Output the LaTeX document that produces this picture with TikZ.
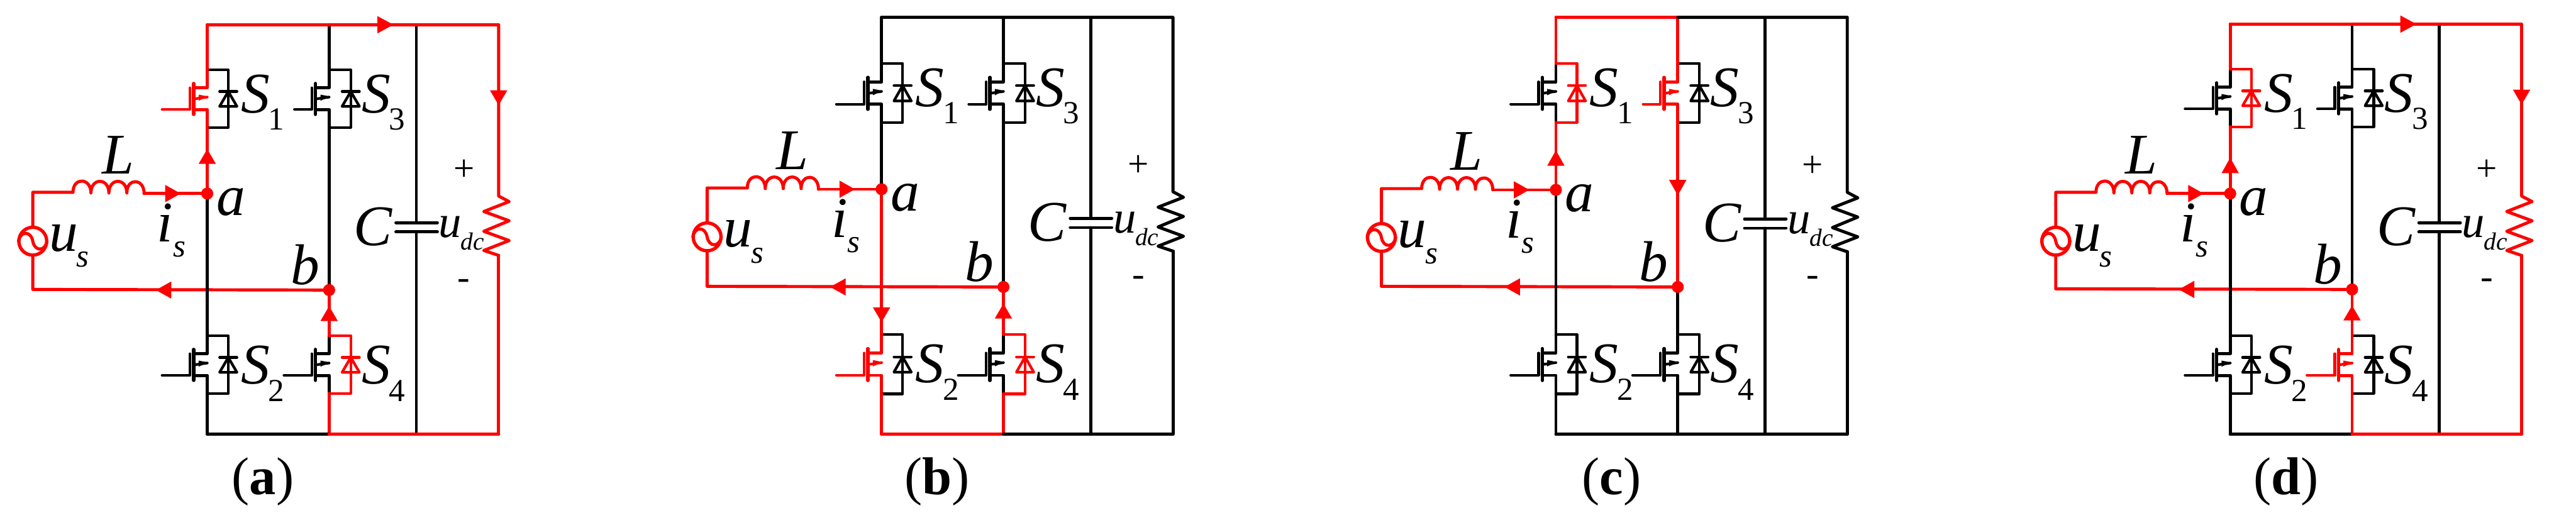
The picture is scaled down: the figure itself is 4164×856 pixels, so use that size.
\documentclass[tikz,border=0pt]{standalone}
\usepackage{fontspec}
\setmainfont{Liberation Serif}
\tikzset{
  wire/.style={line width=2.5pt,line cap=round,line join=round},
  mwire/.style={line width=2.15pt,line cap=round,line join=round},
  lab/.style={inner sep=0pt,font=\fontsize{46.5}{50}\selectfont\itshape},
  midlab/.style={inner sep=0pt,font=\fontsize{37}{40}\selectfont\itshape},
  sublab/.style={inner sep=0pt,font=\fontsize{26}{30}\selectfont\itshape},
  dclab/.style={inner sep=0pt,font=\fontsize{20}{24}\selectfont\itshape},
  subnum/.style={inner sep=0pt,font=\fontsize{26}{30}\selectfont},
  signlab/.style={inner sep=0pt,font=\fontsize{30}{32}\selectfont},
  caplab/.style={inner sep=0pt,font=\fontsize{43}{46}\selectfont},
  dot/.style={circle,fill=red,inner sep=0pt,minimum size=9.6pt}
}
% vertical arrowhead: x, base y, tip y
\newcommand{\kVarr}[3]{\fill[red] (#1-14,#2) -- (#1+14,#2) -- (#1,#3) -- cycle;}
% horizontal arrowhead: base x, tip x, y
\newcommand{\kHarr}[3]{\fill[red] (#1,#3-14) -- (#1,#3+14) -- (#2,#3) -- cycle;}
% MOSFET with antiparallel diode: name, bus x, top y, gate length, mos colour, diode colour, diode offset
\newcommand{\kMos}[7]{%
  \begin{scope}[shift={(#2,#3)},yscale=\kS]
    \coordinate (#1t) at (0,0);
    \coordinate (#1b) at (0,93);
    \coordinate (#1dt) at (#7,0);
    \coordinate (#1db) at (#7,93);
    \coordinate (#1d) at (0,29);
    \coordinate (#1s) at (0,64);
    \coordinate (#1e) at (0,44);
    \coordinate (#1cd) at (-22,29);
    \coordinate (#1cs) at (-22,64);
    \coordinate (#1g) at (-#4,64);
    \coordinate (#1gt) at (-28,29);
    \coordinate (#1gb) at (-28,64);
    \coordinate (#1ct) at (-22,22);
    \coordinate (#1cb) at (-22,72);
    \draw[wire,#5] (#1t) -- (#1d) -- (#1cd);
    \draw[wire,#5] (#1cs) -- (#1s) -- (#1b);
    \draw[mwire,#5] (#1g) -- (#1gb) -- (#1gt);
    \draw[wire,#5,line width=2.7pt] (#1ct) -- (#1cb);
    \draw[mwire,#5] (#1cs |- 0,47) -- (#1e);
    \fill[#5] (1,43) -- (-14,40) -- (-14,50) -- cycle;
    \draw[mwire,#6] (#1t) -- (#1dt) -- (#1db) -- (#1b);
    \draw[mwire,#6] (#7-14,35) -- (#7+14,35);
    \draw[mwire,#6] (#7,35) -- (#7+14,59) -- (#7-14,59) -- cycle;
  \end{scope}}
% one converter panel: name, caption letter, extra arrowheads
\newcommand{\kPanel}[3]{%
  \begin{scope}[shift={(\kX,0)}]
    \coordinate (#1tl) at (0,\kT);
    \coordinate (#1tb) at (197,\kT);
    \coordinate (#1tc) at (338,\kT);
    \coordinate (#1tr) at (471,\kT);
    \coordinate (#1bl) at (0,702);
    \coordinate (#1bb) at (197,702);
    \coordinate (#1bc) at (338,702);
    \coordinate (#1br) at (471,702);
    \coordinate (#1sl) at (-282,\kA-2);
    \coordinate (#1il) at (-217,\kA-2);
    \coordinate (#1ir) at (-102,\kA);
    \coordinate (#1so) at (-282,\kB-1);
    \coordinate (#1cu) at (338,\kA+47);
    \coordinate (#1cl) at (338,\kA+62);
    \coordinate (#1ru) at (471,\kA+4);
    \coordinate (#1rl) at (471,\kA+100);
    % source side
    \node[draw=red,line width=2.7pt,circle,minimum size=22.5pt,inner sep=0pt] (#1src) at (-282,\kA+77) {};
    \draw[wire,red] (-305,\kA+77) .. controls +(3,-17) and +(-3,-17) .. (-282,\kA+77)
       .. controls +(3,17) and +(-3,17) .. (-259,\kA+77);
    \draw[wire,red] (#1src.north) -- (#1sl) -- (#1il)
       .. controls +(0,-25) and +(0,-25) .. ++(29,1)
       .. controls +(0,-25) and +(0,-25) .. ++(29,0)
       .. controls +(0,-25) and +(0,-25) .. ++(29,0)
       .. controls +(0,-25) and +(0,-25) .. ++(28,1) -- (#1ir);
    \node[dot] (#1na) at (0,\kA) {};
    \node[dot] (#1nb) at (197,\kB) {};
    \draw[wire,red] (#1ir) -- (#1na);
    \draw[wire,red] (#1src.south) -- (#1so) -- (#1nb);
    % switches
    \kMos{#1q1}{0}{\kSa}{73}{\kMa}{\kDa}{34}
    \kMos{#1q3}{197}{\kSa}{56}{\kMc}{\kDc}{35}
    \kMos{#1q2}{0}{\kSb}{73}{\kMb}{\kDb}{34}
    \kMos{#1q4}{197}{\kSb}{73}{\kMd}{\kDd}{35}
    % buses
    \draw[wire,\kTA] (#1tl) -- (#1q1t);
    \draw[wire,\kTB] (#1tb) -- (#1q3t);
    \draw[wire,\kUA] (#1q1b) -- (#1na);
    \draw[wire,\kUB] (#1q3b) -- (#1nb);
    \draw[wire,\kLA] (#1na) -- (#1q2t);
    \draw[wire,\kLB] (#1nb) -- (#1q4t);
    \draw[wire,\kBA] (#1q2b) -- (#1bl);
    \draw[wire,\kBB] (#1q4b) -- (#1bb);
    \draw[wire] (#1tc) -- (#1cu);
    \draw[wire] (#1cl) -- (#1bc);
    \draw[wire] (-33+338,\kA+47) -- (34+338,\kA+47);
    \draw[wire] (-33+338,\kA+62) -- (34+338,\kA+62);
    \draw[wire,\kTL] (#1tl) -- (#1tb);
    \draw[wire,\kTR] (#1tb) -- (#1tc) -- (#1tr) -- (#1ru)
      -- (488,\kA+13) -- (447,\kA+29) -- (488,\kA+44) -- (447,\kA+61) -- (488,\kA+76) -- (447,\kA+92) -- (#1rl);
    \draw[wire,\kTR] (#1rl) -- (#1br);
    \draw[wire,\kBL] (#1bl) -- (#1bb);
    \draw[wire,\kBR] (#1bb) -- (#1bc) -- (#1br);
    \node[dot] at (#1na) {};
    \node[dot] at (#1nb) {};
    % arrowheads
    \kHarr{-68}{-43}{\kA}
    \kHarr{-58}{-83}{\kB}
    #3
    % labels
    \node[lab] (#1L) at (-144,\kA-62) {L};
    \node[lab] (#1a) at (38,\kA+14) {a};
    \node[lab] (#1b) at (158,\kB-41) {b};
    \node[lab] (#1i) at (-68,\kA+47) {i};
    \node[sublab] (#1is) at (-45,\kA+90) {s};
    \node[lab] (#1u) at (-232,\kA+72) {u};
    \node[sublab] (#1us) at (-201,\kA+107) {s};
    \node[lab] (#1C) at (268,\kA+54) {C};
    \node[midlab] (#1ud) at (393,\kA+54) {u};
    \node[dclab] (#1dc) at (429,\kA+77) {dc};
    \node[signlab] (#1plus) at (415,\kA-38) {+};
    \node[signlab] (#1minus) at (415,\kB-9) {-};
    \node[lab] (#1s1) at (78,\kSa+39) {S};
    \node[subnum] (#1n1) at (112,\kSa+80) {1};
    \node[lab] (#1s3) at (273,\kSa+39) {S};
    \node[subnum] (#1n3) at (307,\kSa+80) {3};
    \node[lab] (#1s2) at (78,\kSb+47) {S};
    \node[subnum] (#1n2) at (112,\kSb+89) {2};
    \node[lab] (#1s4) at (273,\kSb+47) {S};
    \node[subnum] (#1n4) at (307,\kSb+89) {4};
    \node[caplab] (#1cap) at (90,779) {(\textbf{#2})};
  \end{scope}}
\begin{document}
\begin{tikzpicture}[x=0.5pt,y=-0.5pt]
\useasboundingbox (0,0) rectangle (4164,856);
% (a)
\def\kX{335}\def\kT{40}\def\kA{313}\def\kB{469}\def\kSa{113}\def\kSb{543}\def\kS{1}
\def\kTL{red}\def\kTR{red}\def\kBL{black}\def\kBR{red}
\def\kTA{red}\def\kTB{black}\def\kUA{red}\def\kUB{black}
\def\kLA{black}\def\kLB{red}\def\kBA{black}\def\kBB{red}
\def\kMa{red}\def\kDa{black}\def\kMc{black}\def\kDc{black}
\def\kMb{black}\def\kDb{black}\def\kMd{black}\def\kDd{red}
\kPanel{pa}{a}{\kHarr{275}{301}{\kT}\kVarr{471}{\kT+106}{\kT+130}\kVarr{0}{\kA-48}{\kA-72}\kVarr{197}{\kB+50}{\kB+26}}
% (b)
\def\kX{1425}\def\kT{28}\def\kA{306}\def\kB{464}\def\kSa{102.5}\def\kSb{541}\def\kS{1.03}
\def\kTL{black}\def\kTR{black}\def\kBL{red}\def\kBR{black}
\def\kTA{black}\def\kTB{black}\def\kUA{black}\def\kUB{black}
\def\kLA{red}\def\kLB{red}\def\kBA{red}\def\kBB{red}
\def\kMa{black}\def\kDa{black}\def\kMc{black}\def\kDc{black}
\def\kMb{red}\def\kDb{black}\def\kMd{black}\def\kDd{red}
\kPanel{pb}{b}{\kVarr{0}{\kB+33}{\kB+57}\kVarr{197}{\kB+51}{\kB+27}}
% (c)
\def\kX{2515}\def\kT{28}\def\kA{307}\def\kB{464}\def\kSa{102.5}\def\kSb{541}\def\kS{1.03}
\def\kTL{red}\def\kTR{black}\def\kBL{black}\def\kBR{black}
\def\kTA{red}\def\kTB{red}\def\kUA{red}\def\kUB{red}
\def\kLA{black}\def\kLB{black}\def\kBA{black}\def\kBB{black}
\def\kMa{black}\def\kDa{red}\def\kMc{red}\def\kDc{black}
\def\kMb{black}\def\kDb{black}\def\kMd{black}\def\kDd{black}
\kPanel{pc}{c}{\kVarr{0}{\kA-39}{\kA-64}\kVarr{197}{\kA-16}{\kA+9}}
% (d)
\def\kX{3605}\def\kT{39}\def\kA{313}\def\kB{468}\def\kSa{112}\def\kSb{543}\def\kS{1}
\def\kTL{red}\def\kTR{red}\def\kBL{black}\def\kBR{red}
\def\kTA{red}\def\kTB{black}\def\kUA{red}\def\kUB{black}
\def\kLA{black}\def\kLB{red}\def\kBA{black}\def\kBB{red}
\def\kMa{black}\def\kDa{red}\def\kMc{black}\def\kDc{black}
\def\kMb{black}\def\kDb{black}\def\kMd{red}\def\kDd{black}
\kPanel{pd}{d}{\kHarr{275}{301}{\kT}\kVarr{471}{\kT+106}{\kT+130}\kVarr{0}{\kA-33}{\kA-58}\kVarr{197}{\kB+50}{\kB+26}}
\end{tikzpicture}
\end{document}
